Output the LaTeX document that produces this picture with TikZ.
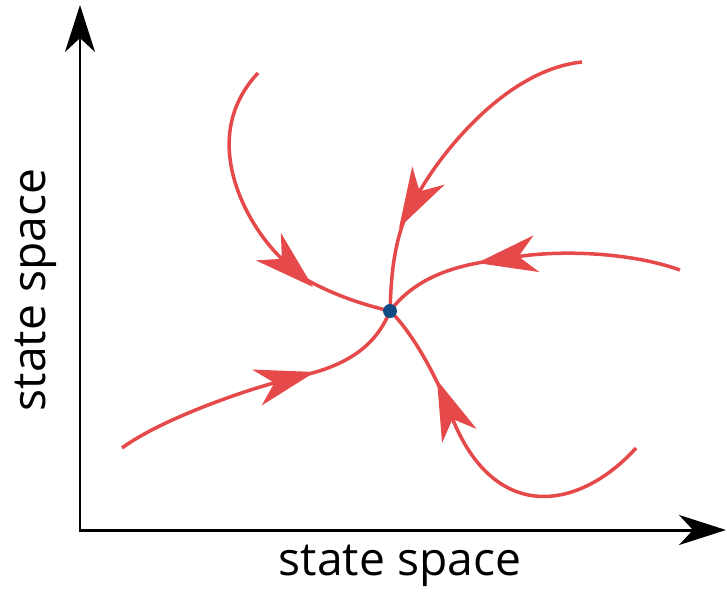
\documentclass[tikz,border=0pt]{standalone}
\usepackage{fontspec}
\setmainfont{Open Sans}
\usepackage{tikz}
\usetikzlibrary{arrows.meta,calc}
\definecolor{primary}{RGB}{0, 0, 0}
\definecolor{flowred}{RGB}{230, 73, 73}
\definecolor{fixblue}{RGB}{16, 76, 130}

\begin{document}
\begin{tikzpicture}[x=0.02cm,y=-0.02cm,
  axis/.style={primary,line width=1.7pt},
  flow/.style={flowred,line width=2pt},
  flowtip/.style={-{Stealth[length=1.2cm,width=0.74cm,inset=0.36cm]}},
  fixdot/.style={circle,fill=fixblue,inner sep=0pt,minimum size=0.28cm}]
\useasboundingbox (0,0) rectangle (727,592);
% axes
\coordinate (ytop) at (80,5);
\coordinate (xend) at (726,530);
\draw[axis,{Stealth[length=0.94cm,width=0.6cm,inset=0.28cm]}-{Stealth[length=0.94cm,width=0.6cm,inset=0.28cm]}] (ytop) |- (xend);
\node[font=\fontsize{26.3}{30}\selectfont] (xlab) at (400,566) {state space};
\node[font=\fontsize{26.3}{30}\selectfont,rotate=90] (ylab) at (36,290) {state space};
% trajectories
\coordinate (a0) at (258,73);  \coordinate (a1) at (313,287);
\coordinate (b0) at (582,62);  \coordinate (b1) at (399,228);
\coordinate (c0) at (680,270); \coordinate (c1) at (477,263);
\coordinate (d0) at (122,448); \coordinate (d1) at (315,372);
\coordinate (e0) at (636,448); \coordinate (e1) at (437,380);
\coordinate (fp) at (390,311);
% inner parts first, so the heads lie on top
\draw[flow] ($(a1)!8pt!(250,230)$) .. controls (335,296) and (365,305) .. (fp);
\draw[flow] ($(b1)!8pt!(440,155)$) .. controls (392,250) and (391,285) .. (fp);
\draw[flow] ($(c1)!8pt!(560,250)$) .. controls (440,268) and (410,285) .. (fp);
\draw[flow] ($(d1)!8pt!(240,392)$) .. controls (365,362) and (382,330) .. (fp);
\draw[flow] ($(e1)!8pt!(495,525)$) .. controls (425,355) and (405,325) .. (fp);
\draw[flow,flowtip] (a0) .. controls (195,140) and (250,230) .. (a1);
\draw[flow,flowtip] (b0) .. controls (505,70) and (440,155) .. (b1);
\draw[flow,flowtip] (c0) .. controls (630,252) and (560,250) .. (c1);
\draw[flow,flowtip] (d0) .. controls (160,420) and (240,392) .. (d1);
\draw[flow,flowtip] (e0) .. controls (580,510) and (495,525) .. (e1);
\node[fixdot] (fixpt) at (fp) {};
\end{tikzpicture}
\end{document}
